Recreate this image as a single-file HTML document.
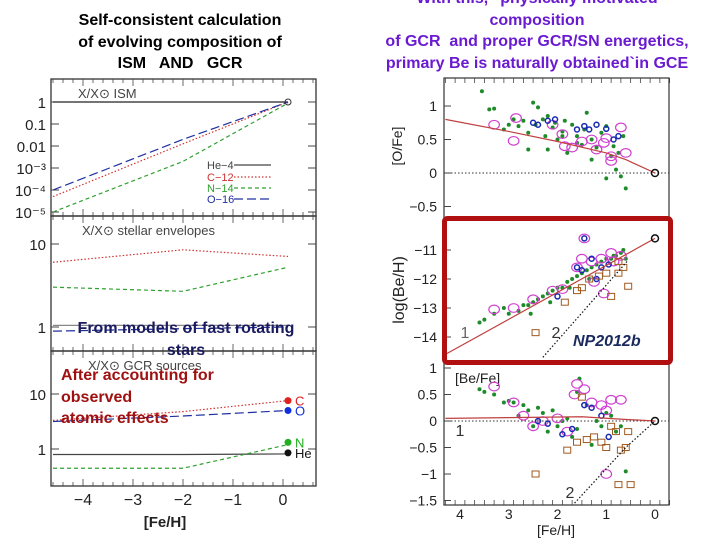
<!DOCTYPE html>
<html><head><meta charset="utf-8">
<style>
html,body{margin:0;padding:0;background:#fff;}
#root{position:relative;width:720px;height:540px;overflow:hidden;font-family:"Liberation Sans",sans-serif;}
.t{position:absolute;font-weight:bold;font-size:16px;line-height:21.5px;text-align:center;white-space:nowrap;}
svg text{font-family:"Liberation Sans",sans-serif;}
</style></head>
<body>
<div id="root">
<div class="t" style="left:40px;top:10px;width:280px;color:#000;">Self-consistent calculation<br>of evolving composition of<br>ISM&nbsp;&nbsp; AND&nbsp;&nbsp; GCR</div>
<div class="t" style="left:350px;top:-12px;width:374px;color:#6a1ad0;">With this, "physically motivated<br>composition<br>of GCR&nbsp; and proper GCR/SN energetics,<br>primary Be is naturally obtained`in GCE</div>
<svg id="chart" width="720" height="540" style="position:absolute;left:0;top:0"></svg>
<div class="t" style="left:55px;top:318px;width:262px;color:#1a1a5e;">From models of fast rotating<br>stars</div>
<div class="t" style="left:61px;top:365px;text-align:left;color:#a01010;">After accounting for<br>observed<br>atomic effects</div>
<div class="t" style="left:573px;top:331px;color:#1a2a5e;font-style:italic;">NP2012b</div>
</div>
<script>
// ---- Left panel data (x = [Fe/H], values = log10(X/Xsun)) ----
const feL = [-4.6, -2, 0.1];
const ismHe = [0, 0, 0];
const ismC = [-4.3, -1.9, 0];
const ismN = [-5.0, -2.7, -0.05];
const ismO = [-4.0, -1.7, 0];
const envC = [0.78, 0.93, 0.85];
const envN = [0.48, 0.43, 0.72];
const envHe = [0.02, 0.02, 0.02];
const envO = [-0.05, -0.02, 0.0];
const gcrC = [0.52, 0.68, 0.88];
const gcrO = [0.5, 0.6, 0.7];
const gcrHe = [-0.1, -0.1, -0.09];
const gcrN = [-0.35, -0.35, 0.08];
const leftTicks = ["-4", "-3", "-2", "-1", "0"];
const ismTickLabels = ["1", "0.1", "0.01", "10\u207B\u00B3", "10\u207B\u2074", "10\u207B\u2075"];

// ---- Right panel data (x = -[Fe/H]) ----
const modelOx = [4.3, 3, 2, 1, 0.6, 0];
const modelOy = [0.8, 0.62, 0.47, 0.3, 0.2, 0];
const line1Be = [[4.3, -14.6], [0, -10.6]];
const line2Be = [[2.3, -14.7], [0.55, -11.35]];
const line1BeFe = [[4.3, 0.05], [1.5, 0.08], [0.8, 0.04], [0, 0]];
const line2BeFe = [[1.65, -1.55], [0.6, -0.5], [0, 0]];
const ofeGreenX = [3.55,3.4,3.3,3.1,3.0,2.9,2.8,2.7,2.6,2.5,2.45,2.4,2.3,2.25,2.2,2.1,2.05,2.0,1.9,1.85,1.8,1.7,1.6,1.5,1.45,1.4,1.3,1.2,1.1,1.0,0.9,0.85,0.8,0.7,0.65,0.6,2.6,2.2,1.9,1.6,1.3,1.0,0.75];
const ofeGreenY = [1.22,0.95,0.96,0.65,0.72,0.8,0.7,0.78,0.6,1.05,0.72,0.98,0.8,0.55,0.85,0.68,0.75,0.5,0.62,0.78,0.3,0.72,0.55,0.42,0.65,0.9,0.5,0.38,0.6,-0.08,0.25,0.4,0.05,-0.05,0.55,-0.23,0.35,0.35,0.55,0.45,0.2,0.7,0.3];
const ofeMagX = [3.3,2.9,2.85,2.1,1.9,1.85,1.7,1.5,1.3,1.2,1.0,0.9,0.7,0.6,0.9,1.05];
const ofeMagY = [0.72,0.48,0.82,0.72,0.58,0.4,0.38,0.47,0.5,0.35,0.52,0.25,0.68,0.3,0.18,0.45];
const ofeBlueX = [2.5,2.4,2.2,2.05,1.6,1.45,1.35,1.2,0.85,0.75,1.0];
const ofeBlueY = [0.75,0.72,0.78,0.8,0.65,0.7,0.65,0.72,0.5,0.55,0.66];
const beGreenX = [3.6,3.5,3.3,3.1,3.0,2.8,2.7,2.6,2.5,2.4,2.3,2.2,2.1,2.0,1.9,1.8,1.7,1.6,1.5,1.4,1.3,1.2,1.1,1.0,0.9,0.85,0.8,0.7,0.65,0.6,2.55,2.15,1.75,1.35];
const beGreenY = [-13.5,-13.4,-13.2,-13.0,-13.2,-13.1,-12.9,-12.9,-12.8,-12.7,-12.6,-12.5,-12.4,-12.3,-12.3,-12.1,-12.0,-11.9,-11.8,-11.7,-11.6,-11.5,-11.4,-11.3,-11.3,-11.2,-11.2,-11.1,-11.0,-11.3,-13.2,-12.8,-12.3,-12.0];
const beMagX = [3.3,2.9,2.5,2.1,1.9,1.6,1.5,1.45,1.3,1.1,1.05,0.9,0.85,0.7,1.25];
const beMagY = [-13.05,-13.0,-12.7,-12.4,-12.35,-11.6,-11.3,-10.6,-11.4,-11.3,-12.5,-11.1,-11.4,-11.2,-12.1];
const beBlueX = [1.6,1.5,1.45,1.3,1.2,1.1,0.95,2.0];
const beBlueY = [-11.6,-11.7,-10.6,-11.3,-12.0,-11.6,-11.5,-12.6];
const beSqX = [2.45,1.85,1.6,1.5,1.35,1.15,1.0,0.9,0.75,0.65,0.55,0.75];
const beSqY = [-13.85,-12.8,-12.4,-12.3,-12.0,-11.9,-11.8,-12.6,-11.8,-11.6,-12.25,-11.4];
const bfGreenX = [3.6,3.5,3.3,3.1,3.0,2.9,2.8,2.7,2.6,2.5,2.4,2.3,2.2,2.1,2.0,1.9,1.8,1.7,1.6,1.55,1.4,1.3,1.2,1.1,1.0,0.9,0.8,0.7,0.6,1.6];
const bfGreenY = [0.6,0.55,0.5,0.35,0.38,0.35,0.1,0.3,0.2,-0.1,0.25,0.15,-0.2,0.2,-0.1,0.0,0.05,-0.3,-0.15,0.8,0.3,-0.45,0.0,-0.1,0.15,0.1,-0.2,-0.1,-0.95,0.55];
const bfMagX = [3.3,2.9,2.7,2.5,2.0,1.8,1.65,1.6,1.45,1.3,1.1,1.0,0.9,0.7,1.0,2.3];
const bfMagY = [0.65,0.35,0.1,-0.1,0.05,-0.2,0.5,0.7,0.6,0.35,0.3,-1.0,0.4,0.4,0.2,0.0];
const bfBlueX = [2.4,2.2,1.9,1.7,1.45,1.3,1.1,0.95];
const bfBlueY = [0.0,-0.05,-0.25,-0.15,0.3,0.25,0.1,-0.3];
const bfSqX = [2.45,1.8,1.6,1.4,1.25,1.1,0.9,0.8,0.7,0.6,0.55,0.5,1.5,1.0,0.75];
const bfSqY = [-1.0,-0.55,-0.4,-0.35,-0.3,-0.4,-0.1,-0.2,-0.55,-0.5,-0.2,-1.2,0.45,-0.5,-1.2];
const rightTicks = ["4", "3", "2", "1", "0"];

// ---- helpers ----
const svg = document.getElementById('chart');
const NS = 'http://www.w3.org/2000/svg';
function mk(tag, attrs, parent) {
  const e = document.createElementNS(NS, tag);
  for (const k in attrs) e.setAttribute(k, attrs[k]);
  (parent || svg).appendChild(e);
  return e;
}
function txt(x, y, s, size, anchor, color, parent) {
  const t = mk('text', {x: x, y: y, 'font-size': size, 'text-anchor': anchor || 'middle', fill: color || '#222'}, parent);
  t.textContent = s;
  return t;
}

// ---- left axes ----
const xL = v => 283 + v * 50;
const yIsm = v => 102 - v * 22;
const yEnv = v => 327 - v * 83;
const yGcr = v => 449 - v * 55;

const left = mk('g', {});


[[79, 216], [216, 351], [351, 486]].forEach((p, i) => {
  const r = mk('rect', {x: 51, y: p[0], width: 265, height: p[1] - p[0], fill: 'none', stroke: '#333', 'stroke-width': 1.3}, left);
  
  
  for (let v = -4.6; v <= 0.7; v += 0.2) {
    const big = Math.abs(Math.round(v) - v) < 0.01;
    mk('line', {x1: xL(v), x2: xL(v), y1: p[0], y2: p[0] + (big ? 7 : 4), stroke: '#444', 'stroke-width': 0.8}, left);
    mk('line', {x1: xL(v), x2: xL(v), y1: p[1], y2: p[1] - (big ? 7 : 4), stroke: '#444', 'stroke-width': 0.8}, left);
  }
});
ismTickLabels.forEach((s, i) => {
  txt(46, yIsm(-i) + 6, s, 15, 'end', '#222', left);
  mk('line', {x1: 51, x2: 59, y1: yIsm(-i), y2: yIsm(-i), stroke: '#444'}, left);
  mk('line', {x1: 316, x2: 308, y1: yIsm(-i), y2: yIsm(-i), stroke: '#444'}, left);
});
txt(46, yEnv(1) + 6, '10', 15, 'end', '#222', left);
txt(46, yEnv(0) + 6, '1', 15, 'end', '#222', left);
txt(46, yGcr(1) + 6, '10', 15, 'end', '#222', left);
txt(46, yGcr(0) + 6, '1', 15, 'end', '#222', left);
[yEnv(1), yEnv(0), yGcr(1), yGcr(0)].forEach(y => {
  mk('line', {x1: 51, x2: 59, y1: y, y2: y, stroke: '#444'}, left);
  mk('line', {x1: 316, x2: 308, y1: y, y2: y, stroke: '#444'}, left);
});
leftTicks.forEach(s => txt(xL(+s), 505, s.replace('-', '\u2212'), 16, 'middle', '#222', left));
const lx = txt(165, 527, '[Fe/H]', 15, 'middle', '#222', left);
lx.setAttribute('font-family', 'Liberation Mono, monospace');
lx.setAttribute('font-weight', 'bold');
txt(78, 98, 'X/X\u2299 ISM', 13, 'start', '#444', left);
txt(82, 235, 'X/X\u2299 stellar envelopes', 13, 'start', '#444', left);
txt(88, 370, 'X/X\u2299 GCR sources', 13, 'start', '#444', left);

function series(xs, ys, fx, fy, color, dash, name, parent) {
  const pts = xs.map((x, i) => fx(x) + ',' + fy(ys[i])).join(' ');
  const p = mk('polyline', {points: pts, fill: 'none', stroke: color, 'stroke-width': 1.2, 'stroke-dasharray': dash}, parent);
  
  
  return p;
}
series(feL, ismHe, xL, yIsm, '#222', '', 'ism-he4-line', left);
series(feL, ismC, xL, yIsm, '#d03030', '1.5,2', 'ism-c12-line', left);
series(feL, ismN, xL, yIsm, '#30a030', '4,3', 'ism-n14-line', left);
series(feL, ismO, xL, yIsm, '#2030a0', '9,4', 'ism-o16-line', left);
mk('circle', {cx: xL(0.1), cy: yIsm(0), r: 3, fill: 'none', stroke: '#333'}, left);
[['He\u22124', '#444', '', 165], ['C\u221212', '#d03030', '1.5,2', 177], ['N\u221214', '#30a030', '4,3', 188], ['O\u221216', '#2030a0', '9,4', 199]].forEach(l => {
  const g = mk('g', {}, left);
  
  
  txt(207, l[3] + 4, l[0], 11, 'start', l[1], g);
  mk('line', {x1: 234, x2: 271, y1: l[3], y2: l[3], stroke: l[1], 'stroke-dasharray': l[2], 'stroke-width': 1.2}, g);
});
series(feL, envC, xL, yEnv, '#d03030', '1.5,2', 'env-c-line', left);
series(feL, envN, xL, yEnv, '#30a030', '4,3', 'env-n-line', left);
series(feL, envHe, xL, yEnv, '#888', '', 'env-he-line', left);
series(feL, envO, xL, yEnv, '#2030a0', '9,4', 'env-o-line', left);
series(feL, gcrC, xL, yGcr, '#d03030', '1.5,2', 'gcr-c-line', left);
series(feL, gcrO, xL, yGcr, '#2030a0', '9,4', 'gcr-o-line', left);
series(feL, gcrHe, xL, yGcr, '#444', '', 'gcr-he-line', left);
series(feL, gcrN, xL, yGcr, '#30a030', '4,3', 'gcr-n-line', left);
[['C', gcrC, '#e02020'], ['O', gcrO, '#1030e0'], ['N', [0, 0, 0.12], '#20b020'], ['He', [0, 0, -0.07], '#111']].forEach(d => {
  const y = yGcr(d[1][2]);
  mk('circle', {cx: xL(0.1), cy: y, r: 3.5, fill: d[2]}, left);
  txt(xL(0.1) + 7, y + 5, d[0], 13, 'start', d[2], left);
});

// ---- right axes ----
const xR = v => 655 - v * 48.75;
const yO = v => 173 - v * 67;
const yBe = v => 250 - (v + 11) * 29;
const yBf = v => 421 - v * 53;
const right = mk('g', {});


mk('rect', {x: 444, y: 78, width: 225, height: 427, fill: 'none', stroke: '#333', 'stroke-width': 1.2}, right);
for (let v = 4.3; v >= -0.4; v -= 0.2) {
  [78, 505].forEach(y0 => mk('line', {x1: xR(v), x2: xR(v), y1: y0, y2: y0 + (y0 < 100 ? 5 : -5), stroke: '#444', 'stroke-width': 0.8}, right));
}
[[1, '1'], [0.5, '0.5'], [0, '0'], [-0.5, '\u22120.5']].forEach(t => {
  txt(437, yO(t[0]) + 5, t[1], 14, 'end', '#222', right);
  mk('line', {x1: 444, x2: 451, y1: yO(t[0]), y2: yO(t[0]), stroke: '#444'}, right);
});
[[-11, '\u221211'], [-12, '\u221212'], [-13, '\u221213'], [-14, '\u221214']].forEach(t => {
  txt(437, yBe(t[0]) + 5, t[1], 14, 'end', '#222', right);
  mk('line', {x1: 444, x2: 451, y1: yBe(t[0]), y2: yBe(t[0]), stroke: '#444'}, right);
});
[[1, '1'], [0.5, '0.5'], [0, '0'], [-0.5, '\u22120.5'], [-1, '\u22121'], [-1.5, '\u22121.5']].forEach(t => {
  txt(437, yBf(t[0]) + 5, t[1], 14, 'end', '#222', right);
  mk('line', {x1: 444, x2: 451, y1: yBf(t[0]), y2: yBf(t[0]), stroke: '#444'}, right);
});
rightTicks.forEach(s => txt(xR(+s), 519, s, 14, 'middle', '#222', right));
const rx = txt(556, 535, '[Fe/H]', 14, 'middle', '#222', right);
rx.setAttribute('font-family', 'Liberation Serif, serif');
const oy = txt(0, 0, '[O/Fe]', 14, 'middle', '#222', right);
oy.setAttribute('transform', 'translate(402,146) rotate(-90)');
const by = txt(0, 0, 'log(Be/H)', 16, 'middle', '#222', right);
by.setAttribute('transform', 'translate(404,290) rotate(-90)');
const bf = txt(455, 383, '[Be/Fe]', 14, 'start', '#222', right);
bf.setAttribute('font-family', 'Liberation Serif, serif');
mk('line', {x1: 444, x2: 669, y1: yO(0), y2: yO(0), stroke: '#333', 'stroke-dasharray': '1.5,2'}, right);
mk('line', {x1: 444, x2: 669, y1: yBf(0), y2: yBf(0), stroke: '#333', 'stroke-dasharray': '1.5,2'}, right);

function scatter(xs, ys, fy, kind, name) {
  const g = mk('g', {}, right);
  
  
  xs.forEach((x, i) => {
    const cx = xR(x), cy = fy(ys[i]);
    if (kind === 'g') mk('circle', {cx: cx, cy: cy, r: 2, fill: '#1e8a2a'}, g);
    else if (kind === 'm') mk('ellipse', {cx: cx, cy: cy, rx: 5.3, ry: 4.3, fill: 'none', stroke: '#d040d0', 'stroke-width': 1.2}, g);
    else if (kind === 'b') mk('circle', {cx: cx, cy: cy, r: 2.5, fill: 'none', stroke: '#1a2ab0', 'stroke-width': 1.5}, g);
    else mk('rect', {x: cx - 3.5, y: cy - 3, width: 7, height: 6, fill: 'none', stroke: '#a05a20', 'stroke-width': 1}, g);
  });
}
scatter(ofeGreenX, ofeGreenY, yO, 'g', 'ofe-green-stars');
scatter(ofeMagX, ofeMagY, yO, 'm', 'ofe-magenta-stars');
scatter(ofeBlueX, ofeBlueY, yO, 'b', 'ofe-blue-stars');
series(modelOx, modelOy, xR, yO, '#c04040', '', 'ofe-model-line', right);
mk('circle', {cx: xR(0), cy: yO(0), r: 3.5, fill: 'none', stroke: '#111', 'stroke-width': 1.5}, right);

scatter(beGreenX, beGreenY, yBe, 'g', 'be-green-stars');
scatter(beMagX, beMagY, yBe, 'm', 'be-magenta-stars');
scatter(beBlueX, beBlueY, yBe, 'b', 'be-blue-stars');
scatter(beSqX, beSqY, yBe, 's', 'be-brown-squares');
series(line1Be.map(p => p[0]), line1Be.map(p => p[1]), xR, yBe, '#c04040', '', 'be-model-1', right);
series(line2Be.map(p => p[0]), line2Be.map(p => p[1]), xR, yBe, '#111', '1.5,2', 'be-model-2', right);
mk('circle', {cx: xR(0), cy: yBe(-10.6), r: 3.5, fill: 'none', stroke: '#111', 'stroke-width': 1.5}, right);
txt(465, 338, '1', 16, 'middle', '#666', right);
txt(556, 338, '2', 16, 'middle', '#333', right);

scatter(bfGreenX, bfGreenY, yBf, 'g', 'befe-green-stars');
scatter(bfMagX, bfMagY, yBf, 'm', 'befe-magenta-stars');
scatter(bfBlueX, bfBlueY, yBf, 'b', 'befe-blue-stars');
scatter(bfSqX, bfSqY, yBf, 's', 'befe-brown-squares');
series(line1BeFe.map(p => p[0]), line1BeFe.map(p => p[1]), xR, yBf, '#c04040', '', 'befe-model-1', right);
series(line2BeFe.map(p => p[0]), line2BeFe.map(p => p[1]), xR, yBf, '#111', '1.5,2', 'befe-model-2', right);
mk('circle', {cx: xR(0), cy: yBf(0), r: 3.5, fill: 'none', stroke: '#111', 'stroke-width': 1.5}, right);
txt(460, 436, '1', 16, 'middle', '#333', right);
txt(570, 498, '2', 16, 'middle', '#333', right);

const box = mk('rect', {x: 444.5, y: 218.5, width: 226, height: 144, rx: 3, fill: 'none', stroke: '#b01010', 'stroke-width': 5});


</script>
</body></html>
